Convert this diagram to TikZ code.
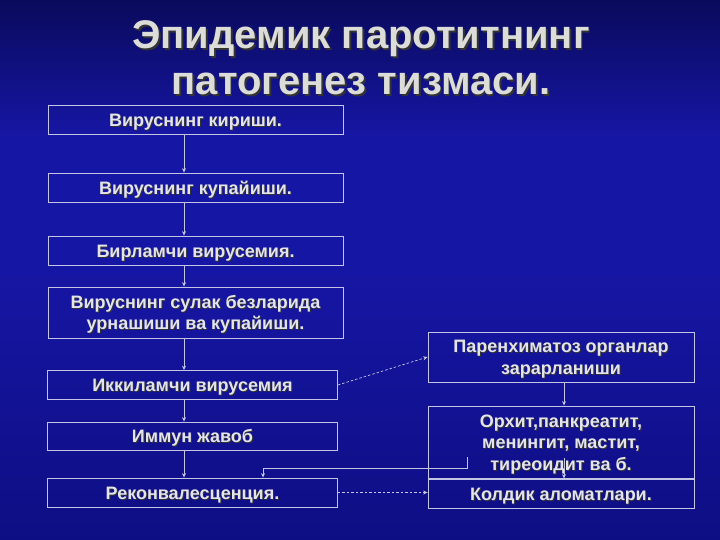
\documentclass[tikz,border=0pt]{standalone}
\usepackage{fontspec}
\setmainfont{Liberation Sans}
\usetikzlibrary{arrows.meta,positioning}
\definecolor{bgtop}{HTML}{0A0A5C}
\definecolor{bgmid}{HTML}{1616A4}
\definecolor{bgbot}{HTML}{0E0E84}
\definecolor{txt}{HTML}{E4E4EE}
\definecolor{ttl}{HTML}{DCDCD8}
\definecolor{edge}{HTML}{C4C4E4}
\newcommand\shtx[2][1]{\leavevmode\rlap{\smash{\kern#1pt\raisebox{-#1pt}{\color{black!80}#2}}}#2}
\newcommand\bxt[1]{\rule[-2pt]{0pt}{19pt}\shtx{#1}}
\tikzset{
  x=1pt, y=-1pt,
  box/.style={draw=edge, line width=0.8pt, inner sep=0pt, align=center,
    text=txt, font=\bfseries\fontsize{18}{21.5}\selectfont},
  arr/.style={draw=edge, line width=0.7pt, -{Stealth[length=4.5pt,width=4pt]}},
  darr/.style={arr, dash pattern=on 2.5pt off 2pt}
}
\begin{document}
\begin{tikzpicture}
\useasboundingbox (0,0) rectangle (720,540);
\shade[top color=bgtop, bottom color=bgmid, middle color=bgmid] (0,0) rectangle (720,270);
\shade[top color=bgmid, bottom color=bgbot] (0,270) rectangle (720,540);
% title
\node[text=ttl, font=\bfseries\fontsize{40}{46}\selectfont, align=center] (title) at (361,58)
  {\shtx[1.8]{Эпидемик паротитнинг}\\\shtx[1.8]{патогенез тизмаси.}};
% left column
\node[box, minimum width=295pt, minimum height=29pt] (b1) at (195.5,119.5) {\bxt{Вируснинг кириши.}};
\node[box, minimum width=295pt, minimum height=29pt] (b2) at (195.5,187.5) {\bxt{Вируснинг купайиши.}};
\node[box, minimum width=295pt, minimum height=29pt] (b3) at (195.5,250.5) {\bxt{Бирламчи вирусемия.}};
\node[box, minimum width=295pt, minimum height=51pt] (b4) at (195.5,312.5) {\bxt{Вируснинг сулак безларида}\\\bxt{урнашиши ва купайиши.}};
\node[box, minimum width=290pt, minimum height=29pt] (b5) at (192.5,385) {\bxt{Иккиламчи вирусемия}};
\node[box, minimum width=290pt, minimum height=28pt] (b6) at (192.5,436) {\bxt{Иммун жавоб}};
\node[box, minimum width=290pt, minimum height=29pt] (b7) at (192.5,492.5) {\bxt{Реконвалесценция.}};
% right column
\node[box, minimum width=266pt, minimum height=50pt] (b8) at (561,357) {\bxt{Паренхиматоз органлар}\\\bxt{зарарланиши}};
\node[box, minimum width=266pt, minimum height=72pt] (b9) at (561,442) {\bxt{Орхит,панкреатит,}\\\bxt{менингит, мастит,}\\\bxt{тиреоидит ва б.}};
\node[box, minimum width=266pt, minimum height=29pt] (b10) at (561,493.5) {\bxt{Колдик аломатлари.}};
% connectors
\coordinate (ax) at (184,0);
\coordinate (rx) at (564,0);
\draw[arr] (b1.south -| ax) -- (b2.north -| ax);
\draw[arr] (b2.south -| ax) -- (b3.north -| ax);
\draw[arr] (b3.south -| ax) -- (b4.north -| ax);
\draw[arr] (b4.south -| ax) -- (b5.north -| ax);
\draw[arr] (b5.south -| ax) -- (b6.north -| ax);
\draw[arr] (b6.south -| ax) -- (b7.north -| ax);
\draw[darr] (b5.east) -- (b8.west);
\draw[darr] (b7.east) -- (b7.east -| b10.west);
\draw[arr] (b8.south -| rx) -- (b9.north -| rx);
\coordinate (s9) at (564,458);
\draw[arr] (s9) -- (b10.north -| rx);
\coordinate (e1) at (467,457);
\coordinate (e2) at (263,468);
\draw[arr] (e1) |- (e2) -- (b7.north -| e2);
\end{tikzpicture}
\end{document}
